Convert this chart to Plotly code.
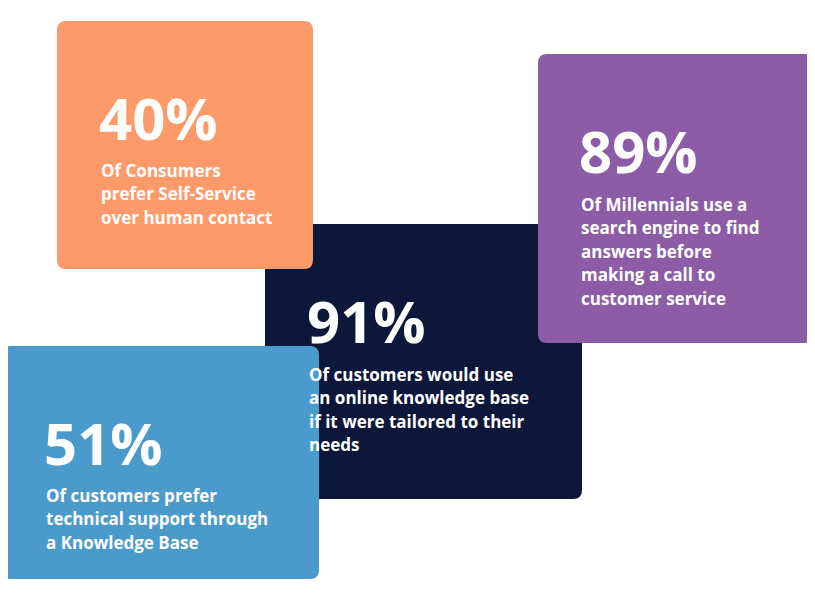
import plotly.graph_objects as go

# Card data
stats = ["91%", "40%", "89%", "51%"]
descriptions = [
    ["Of customers would use", "an online knowledge base", "if it were tailored to their", "needs"],
    ["Of Consumers", "prefer Self-Service", "over human contact"],
    ["Of Millennials use a", "search engine to find", "answers before", "making a call to", "customer service"],
    ["Of customers prefer", "technical support through", "a Knowledge Base"],
]
colors = ["#0C1739", "#FD9A6A", "#8D5CA6", "#4A9BCB"]
# layout boxes (x0, y0, x1, y1) in pixels, and text positions
boxes = [(265, 224, 582, 499), (57, 21, 313, 269), (538, 54, 814, 343), (2, 346, 319, 579)]
text_x = [308, 100, 580, 45]
stat_y = [320, 117, 150, 442]
line_y0 = [374, 170, 204, 495]
line_gap = 23.6
OFF = 8  # page body margin

def rrect(x0, y0, x1, y1, r=9):
    return (f"M{x0+r},{y0} L{x1-r},{y0} Q{x1},{y0} {x1},{y0+r} L{x1},{y1-r} Q{x1},{y1} {x1-r},{y1} "
            f"L{x0+r},{y1} Q{x0},{y1} {x0},{y1-r} L{x0},{y0+r} Q{x0},{y0} {x0+r},{y0} Z")

fig = go.Figure()
shapes, anns = [], []
for i in range(len(stats)):
    shapes.append(dict(type="path", path=rrect(*boxes[i]), fillcolor=colors[i], line=dict(width=0), layer="above"))
for i in range(len(stats)):
    anns.append(dict(x=text_x[i] - 3, y=stat_y[i], text=f"<b>{stats[i]}</b>", showarrow=False,
                     xanchor="left", yanchor="middle", font=dict(size=58, color="white", family="Open Sans")))
    for j, line in enumerate(descriptions[i]):
        anns.append(dict(x=text_x[i] - 1, y=line_y0[i] + j * line_gap, text=f"<b>{line}</b>", showarrow=False,
                         xanchor="left", yanchor="middle", font=dict(size=17, color="white", family="Open Sans")))
fig.update_layout(
    width=815, height=601, margin=dict(l=0, r=0, t=0, b=0),
    paper_bgcolor="white", plot_bgcolor="white",
    xaxis=dict(range=[OFF, 815 + OFF], visible=False, fixedrange=True),
    yaxis=dict(range=[601 + OFF, OFF], visible=False, fixedrange=True),
    shapes=shapes, annotations=anns, showlegend=False,
)
fig.write_html("out.html")
